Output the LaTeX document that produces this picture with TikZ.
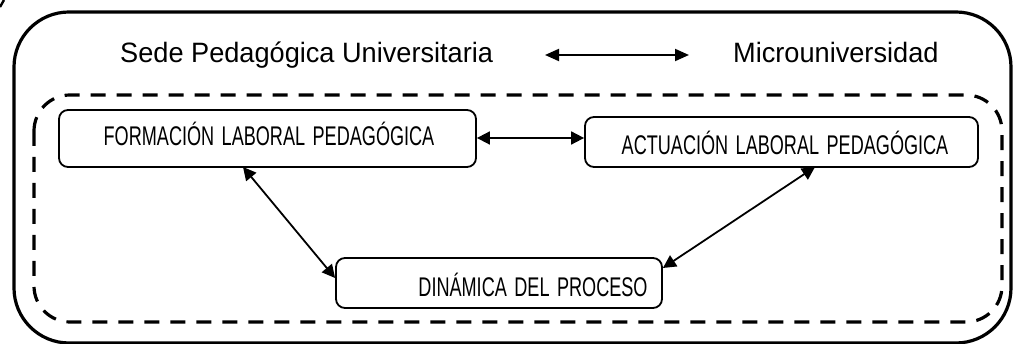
\documentclass[tikz,border=0pt]{standalone}
\usepackage{fontspec}
\setmainfont{Liberation Sans}
\newfontfamily\headfont{Liberation Sans}[FakeStretch=0.97]
\newfontfamily\boxfont{Liberation Sans}[FakeStretch=0.67]
\usetikzlibrary{arrows.meta}
\newcommand{\wg}{\hspace{7.5pt}}
\begin{document}
\begin{tikzpicture}[x=1pt,y=-1pt,
  box/.style={draw,line width=1.8pt,rounded corners=9pt,inner sep=0pt},
  boxtext/.style={font=\boxfont\fontsize{27}{27}\selectfont,inner sep=0pt,anchor=base},
  head/.style={font=\headfont\fontsize{28}{28}\selectfont,inner sep=0pt,anchor=base west},
  link/.style={line width=1.8pt,{Triangle[length=13pt,width=13pt]}-{Triangle[length=13pt,width=13pt]}},
  hlink/.style={line width=2pt,{Triangle[length=14pt,width=12pt]}-{Triangle[length=14pt,width=12pt]}}]
\useasboundingbox (0,0) rectangle (1013,344);
\draw[line width=3.2pt,rounded corners=55pt] (14,12) rectangle (1011,343);
\draw[line width=3.2pt,rounded corners=36pt,dash pattern=on 15pt off 11pt] (34,95) rectangle (1002,322);
\draw[line width=2.4pt] (0,7) -- (4,0);
% header
\node[head] (sede) at (120,63) {Sede Pedagógica Universitaria};
\node[head] (micro) at (733,63) {Microuniversidad};
\coordinate (ha) at (545,55);
\coordinate (hb) at (689,55);
\draw[hlink] (ha) -- (hb);
% boxes
\node[box,minimum width=417pt,minimum height=57pt] (form) at (267.5,138.5) {};
\node[boxtext] (formt) at (269,146) {FORMACIÓN\wg LABORAL\wg PEDAGÓGICA};
\node[box,minimum width=393pt,minimum height=50pt] (act) at (781.5,142) {};
\node[boxtext] (actt) at (785,155) {ACTUACIÓN\wg LABORAL\wg PEDAGÓGICA};
\node[box,minimum width=326pt,minimum height=50pt] (din) at (499,283) {};
\node[boxtext] (dint) at (533,297) {DINÁMICA\wg DEL\wg PROCESO};
% connectors
\draw[link] (form.east |- 0,138) -- (act.west |- 0,138);
\draw[link] (243,167) -- (din.west |- 0,278);
\draw[link] (815,167) -- (din.east |- 0,268);
\end{tikzpicture}
\end{document}
